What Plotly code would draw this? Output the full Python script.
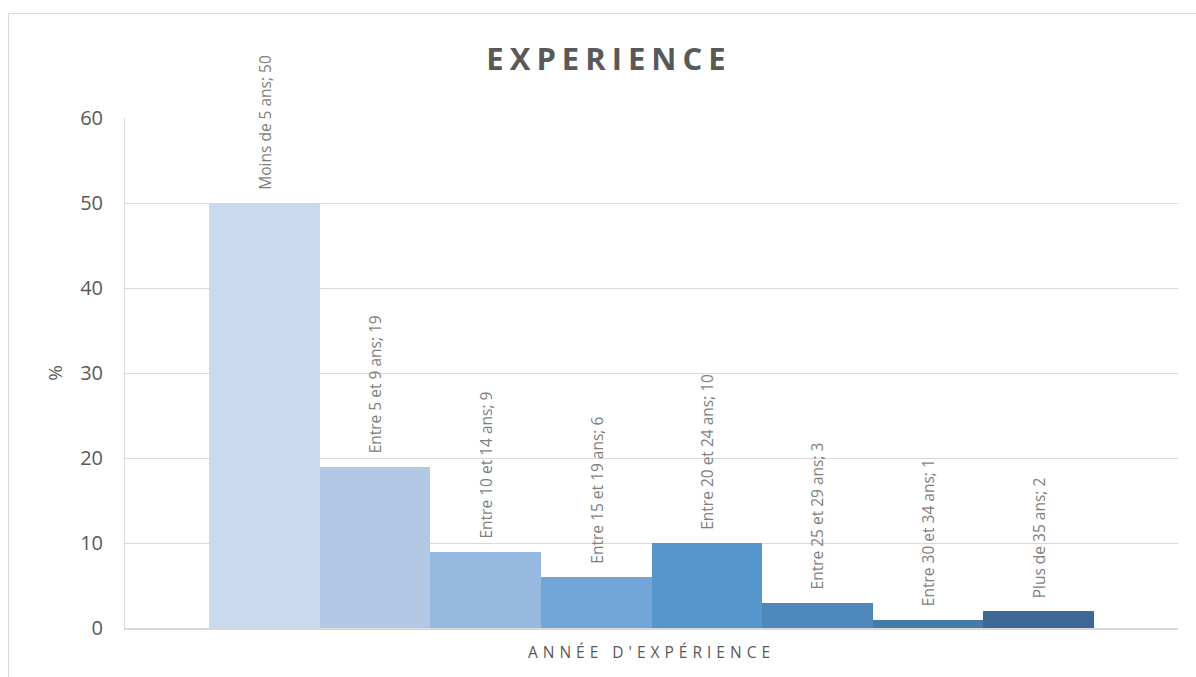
import plotly.graph_objects as go

categories = ["Moins de 5 ans", "Entre 5 et 9 ans", "Entre 10 et 14 ans", "Entre 15 et 19 ans",
              "Entre 20 et 24 ans", "Entre 25 et 29 ans", "Entre 30 et 34 ans", "Plus de 35 ans"]
values = [50, 19, 9, 6, 10, 3, 1, 2]
colors = ["#C9D9EE", "#B2C8E4", "#98B9DF", "#72A5D8", "#5796CC", "#4E88BA", "#4679A8", "#3D6894"]
y_ticks = [0, 10, 20, 30, 40, 50, 60]

W, H = 1196, 677
L, R, T, B = 125, 18, 118, 49
pw, ph = W - L - R, H - T - B

fig = go.Figure()
fig.add_trace(go.Bar(x=categories, y=values, marker=dict(color=colors, line=dict(width=0)),
                     hoverinfo="skip", showlegend=False))

for c, v in zip(categories, values):
    fig.add_annotation(x=c, y=v, text=f"{c}; {v}", textangle=-90, showarrow=False,
                       xanchor="center", yanchor="bottom", yshift=11,
                       font=dict(family="Open Sans", size=15.5, color="#7F7F7F"))

pad = 0.758
# outer chart border
fig.add_shape(type="rect", xref="paper", yref="paper",
              x0=(8.5 - L) / pw, x1=(1205 - L) / pw,
              y0=(H - B - 690) / ph, y1=(H - B - 13.5) / ph,
              line=dict(color="#D9D9D9", width=1), fillcolor="rgba(0,0,0,0)", layer="below")

fig.update_layout(
    width=W, height=H,
    margin=dict(l=L, r=R, t=T, b=B, autoexpand=False),
    paper_bgcolor="white", plot_bgcolor="white",
    bargap=0,
    font=dict(family="Open Sans", color="#595959"),
    title=dict(text="<b>EXPERIENCE</b>", xref="container", yref="container",
               x=609 / W, y=1 - 59 / H, xanchor="center", yanchor="middle",
               font=dict(family="Open Sans", size=31, color="#595959")),
    xaxis=dict(type="category", range=[-0.5 - pad, len(categories) - 0.5 + pad],
               showticklabels=False, ticks="", showgrid=False,
               showline=True, linecolor="#D9D9D9", linewidth=1.5,
               title=dict(text="ANNÉE D'EXPÉRIENCE", standoff=18,
                          font=dict(family="Open Sans", size=15.5, color="#595959"))),
    yaxis=dict(range=[0, 60], tickvals=y_ticks, showgrid=True, gridcolor="#D9D9D9", gridwidth=1,
               showline=True, linecolor="#D9D9D9", linewidth=1, zeroline=False,
               ticks="", ticklabelstandoff=17,
               tickfont=dict(family="Open Sans", size=20, color="#595959"),
               title=dict(text="%", standoff=12,
                          font=dict(family="Open Sans", size=19, color="#595959"))),
)

post = """
document.body.style.margin = '0';
document.body.style.padding = '0';
var gd = document.getElementById('{plot_id}');
function sp(){
  gd.querySelectorAll('.gtitle').forEach(function(e){e.style.letterSpacing='6px';});
  gd.querySelectorAll('.xtitle').forEach(function(e){e.style.letterSpacing='5px';});
}
sp();
if (gd.on) { gd.on('plotly_afterplot', sp); }
"""
fig.write_html("out.html", post_script=post, config={"displayModeBar": False})
